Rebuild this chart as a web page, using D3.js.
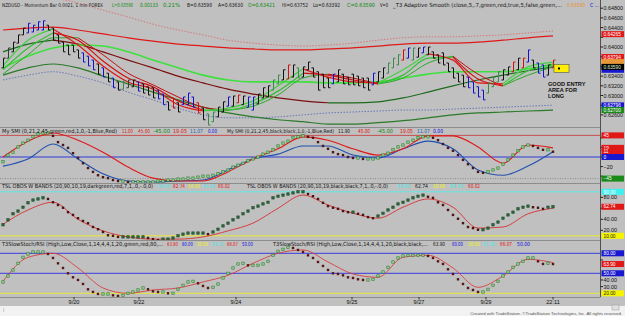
<!DOCTYPE html>
<html><head><meta charset="utf-8">
<script src="https://cdn.jsdelivr.net/npm/d3@7"></script>
<style>
body{margin:0;background:#c0c0c0;overflow:hidden}
svg{display:block}
text{font-family:"Liberation Sans Narrow","DejaVu Sans Condensed","Liberation Sans",sans-serif}
.ax{font-family:"Liberation Sans",Arial,sans-serif}
</style></head>
<body><svg id="c" width="625" height="316"></svg>
<script>
// ---------------- DATA ----------------
const barHigh=[0.6377,0.6398,0.6410,0.6425,0.6439,0.6449,0.6445,0.6452,0.6454,0.6445,
0.6439,0.6425,0.6410,0.6404,0.6404,0.6394,0.6388,0.6381,0.6373,0.6365,
0.6357,0.6346,0.6336,0.6328,0.6330,0.6332,0.6332,0.6328,0.6324,0.6318,
0.6316,0.6311,0.6303,0.6287,0.6295,0.6285,0.6297,0.6305,0.6297,0.6285,
0.6274,0.6262,0.6266,0.6276,0.6287,0.6297,0.6299,0.6301,0.6299,0.6297,
0.6297,0.6303,0.6316,0.6320,0.6332,0.6342,0.6353,0.6363,0.6363,0.6357,
0.6359,0.6369,0.6357,0.6349,0.6344,0.6336,0.6344,0.6353,0.6344,0.6338,
0.6344,0.6340,0.6336,0.6336,0.6346,0.6349,0.6357,0.6367,0.6377,0.6384,
0.6394,0.6398,0.6398,0.6398,0.6400,0.6400,0.6390,0.6384,0.6388,0.6367,
0.6357,0.6346,0.6342,0.6338,0.6328,0.6318,0.6311,0.6326,0.6338,0.6349,
0.6353,0.6359,0.6369,0.6377,0.6377,0.6394,0.6373,0.6367,0.6363,0.6363,
0.6373];
const barLow=[0.6357,0.6377,0.6390,0.6408,0.6425,0.6429,0.6431,0.6435,0.6435,0.6435,
0.6414,0.6408,0.6390,0.6384,0.6390,0.6377,0.6369,0.6361,0.6353,0.6344,
0.6338,0.6328,0.6316,0.6311,0.6313,0.6316,0.6318,0.6309,0.6305,0.6301,
0.6295,0.6293,0.6281,0.6270,0.6274,0.6266,0.6281,0.6281,0.6276,0.6264,
0.6250,0.6239,0.6246,0.6256,0.6266,0.6278,0.6278,0.6285,0.6281,0.6276,
0.6270,0.6283,0.6295,0.6297,0.6311,0.6324,0.6332,0.6334,0.6338,0.6336,
0.6338,0.6353,0.6338,0.6311,0.6316,0.6316,0.6324,0.6328,0.6324,0.6322,
0.6322,0.6320,0.6316,0.6311,0.6322,0.6328,0.6336,0.6346,0.6357,0.6363,
0.6373,0.6377,0.6373,0.6379,0.6388,0.6384,0.6377,0.6367,0.6363,0.6349,
0.6336,0.6328,0.6318,0.6316,0.6305,0.6297,0.6291,0.6305,0.6318,0.6328,
0.6332,0.6342,0.6349,0.6353,0.6357,0.6369,0.6357,0.6346,0.6338,0.6342,
0.6357];
// 1 = up bar, 0 = down bar
const barDir=("111111111"+"000000000000000"+"111"+"000000000"+"11"+"0000"+"11111111111111111"+"0"+"11"+"0000"+"11"+"000000"+"111111111111"+"00000000000"+"111111111"+"000"+"11").split('').map(Number);
// bar type codes
const barKind=("kdkkk"+"bbbb"+"kkkkkk"+"kbbb"+"kbkb"+"k"+"gdkb"+"kkkb"+"b"+"krk"+"bbb"+"rk"+"gg"+"kk"+"b"+"k"+"r"+"k"+"b"+"b"+"k"+"kk"+"gg"+"k"+"r"+"k"+"gk"+"k"+"kkkk"+"b"+"kkkkkk"+"k"+"b"+"kk"+"ggg"+"r"+"b"+"g"+"k"+"b"+"k"+"kkk"+"kkkk"+"b"+"bbb"+"g"+"ggkk"+"r"+"k"+"r"+"b"+"k"+"bb"+"k"+"r").split('');

// indicator line samples (every 5th bar)
const lineIdx=[0,5,10,15,20,25,30,35,40,45,50,55,60,65,70,75,80,85,90,95,100,105,110];
const t3Fast=[0.6361,0.6414,0.6437,0.6404,0.6361,0.6328,0.6313,0.6281,0.6268,0.6274,0.6289,0.6320,0.6355,0.6338,0.6328,0.6326,0.6353,0.6386,0.6373,0.6326,0.6324,0.6359,0.6369];
const t3Mid=[0.6353,0.6398,0.6429,0.6414,0.6371,0.6336,0.6318,0.6289,0.6270,0.6270,0.6283,0.6309,0.6346,0.6342,0.6332,0.6324,0.6342,0.6377,0.6379,0.6334,0.6320,0.6351,0.6365];
const t3Slow=[0.6344,0.6384,0.6419,0.6419,0.6384,0.6346,0.6322,0.6297,0.6276,0.6270,0.6278,0.6301,0.6336,0.6344,0.6336,0.6324,0.6336,0.6367,0.6381,0.6344,0.6320,0.6342,0.6359];
const limeAvg=[0.6357,0.6381,0.6398,0.6404,0.6402,0.6390,0.6373,0.6357,0.6342,0.6332,0.6328,0.6328,0.6328,0.6326,0.6326,0.6328,0.6336,0.6344,0.6349,0.6349,0.6349,0.6355,0.6363];
const upperBand=[0.6435,0.6439,0.6441,0.6435,0.6427,0.6419,0.6412,0.6406,0.6402,0.6398,0.6396,0.6394,0.6394,0.6396,0.6398,0.6402,0.6406,0.6408,0.6408,0.6410,0.6414,0.6419,0.6423];
const outerUpper=[0.6513,0.6507,0.6501,0.6491,0.6476,0.6462,0.6447,0.6435,0.6425,0.6414,0.6408,0.6404,0.6402,0.6404,0.6408,0.6414,0.6419,0.6421,0.6421,0.6423,0.6425,0.6429,0.6433];
const midBand=[0.6390,0.6406,0.6414,0.6406,0.6390,0.6373,0.6357,0.6340,0.6326,0.6313,0.6303,0.6295,0.6289,0.6285,0.6285,0.6287,0.6295,0.6307,0.6320,0.6332,0.6342,0.6351,0.6359];
const lowerBand=[0.6342,0.6357,0.6365,0.6357,0.6340,0.6324,0.6307,0.6291,0.6276,0.6264,0.6256,0.6250,0.6246,0.6241,0.6241,0.6244,0.6248,0.6254,0.6260,0.6264,0.6266,0.6268,0.6270];
const outerLower=[0.6332,0.6342,0.6349,0.6340,0.6326,0.6307,0.6291,0.6274,0.6260,0.6254,0.6254,0.6256,0.6260,0.6264,0.6266,0.6268,0.6270,0.6270,0.6272,0.6274,0.6276,0.6278,0.6280];

const smiDots=[-10,4,10,21,29,35,42,48,50,50,
44,31,25,19,8,-2,-13,-23,-31,-38,
-42,-44,-48,-50,-50,-52,-52,-52,-52,-52,
-52,-50,-50,-48,-48,-46,-46,-44,-44,-42,
-40,-40,-38,-35,-31,-27,-21,-17,-13,-8,
-4,0,6,10,15,23,29,33,40,42,
44,42,40,31,23,17,10,6,4,0,
-2,-2,-4,-4,-4,-2,4,8,15,21,
25,31,35,40,42,42,40,35,27,19,
13,4,-6,-15,-23,-31,-33,-31,-27,-23,
-15,-6,4,13,21,25,23,19,15,15,
11];
const smiSignal=[0,33,50,35,10,-21,-44,-50,-50,-31,-4,17,42,35,17,4,17,44,44,21,-13,25,19.05];
const smiSlow=[-19,-4,27,-4,-35,-50,-52,-50,-48,-27,-4,6,23,23,4,-2,17,33,17,-27,-38,-19,11.07];

const tslDots=[30,39,50,55,62,70,75,77,79,77,
71,66,61,53,48,42,37,33,26,22,
17,11,10,8,8,8,8,8,8,6,
4,2,4,4,6,10,13,15,15,15,
15,13,17,22,28,33,39,44,50,55,
61,64,68,71,79,82,84,86,88,90,
90,86,82,77,70,64,61,59,55,53,
53,50,48,44,42,46,51,57,62,68,
71,75,79,82,84,81,79,71,66,57,
48,41,33,26,24,21,21,24,30,35,
42,48,53,59,62,64,62,61,59,62,
62.74];
const tslSignal=[31,57,71,40,19,8,4,4,8,19,33,60,84,66,51,42,62,77,62,24,26,50,60.02];

const stochDots=[37,46,55,65,74,79,82,82,82,79,
73,65,58,50,44,40,34,26,22,19,
19,19,17,16,17,20,22,25,28,26,
23,22,22,20,20,26,32,37,38,35,
31,28,29,34,43,50,58,64,65,62,
62,62,64,68,77,83,86,89,88,85,
82,77,73,67,61,55,50,49,47,44,
43,41,40,40,41,46,52,59,67,73,
76,77,77,77,77,76,73,68,64,56,
49,41,34,28,25,22,22,26,32,38,
46,52,59,64,68,73,73,68,64,65,
63.9];
const stochSignal=[38,74,80,58,28,20,25,28,37,47,65,80,85,67,49,44,74,77,58,29,46,71,66.07];

const priceTicks=[0.648,0.646,0.644,0.642,0.640,0.638,0.636,0.634,0.632,0.630,0.628,0.626];
const priceMarks=[0.64265,0.63794,0.63690,0.63530,0.63590,0.62796,0.62700];
const priceMarkShown=[1,1,0,0,1,1,1];
const smiTicks=[40,20,0,-20,-40];
const smiMarks=[45,19.05,11.00,0,-45];
const tslTicks=[80,60,40,20];
const tslMarks=[90,62.74,10];
const stochTicks=[70,40,30];
const stochMarks=[80,63.90,50,20];
const timeLabels=["9/20","9/22","9/24","9/25","9/27","9/29","22:11"];
const timeIdx=[14.2,27.2,46.6,69.8,83.2,96.6,110];

// ---------------- DRAW ----------------
const svg=d3.select('#c');
const W=625,H=316,AX=600.5;
svg.append('rect').attr('width',W).attr('height',H).attr('fill','#c0c0c0');

const x=d3.scaleLinear().domain([0,110]).range([3,553]);
const yP=d3.scaleLinear().domain([0.640,0.630]).range([47,95.5]);
const yS=d3.scaleLinear().domain([45,-45]).range([135.4,178.6]);
const yT=d3.scaleLinear().domain([90,10]).range([191.8,235.8]);
const yR=d3.scaleLinear().domain([80,20]).range([253.3,293.3]);

const defs=svg.append('defs');
function panel(id,y0,h){
  defs.append('clipPath').attr('id',id).append('rect').attr('x',0).attr('y',y0).attr('width',600).attr('height',h);
  return svg.append('g').attr('clip-path',`url(#${id})`);
}
const gP=panel('cp',0,127), gS=panel('cs',127,56), gT=panel('ct',183,57), gR=panel('cr',240,57);

[127,183,240,297].forEach(yy=>svg.append('line').attr('x1',0).attr('x2',AX).attr('y1',yy+0.5).attr('y2',yy+0.5).attr('stroke','#8c8c8c').attr('stroke-width',1));
svg.append('line').attr('x1',AX).attr('x2',AX).attr('y1',0).attr('y2',297).attr('stroke','#505050');

const curve=d3.line().curve(d3.curveMonotoneX);
function drawLine(g,idx,vals,ys,color,w,dash){
  g.append('path').attr('d',curve(idx.map((d,k)=>[x(d),ys(vals[k])])))
   .attr('fill','none').attr('stroke',color).attr('stroke-width',w||1)
   .attr('stroke-dasharray',dash||null);
}
function slopeLine(g,idx,vals,ys,upC,dnC,w){
  const runs=[];let cur=null;
  for(let k=0;k<vals.length-1;k++){
    const up=vals[k+1]>=vals[k];
    if(!cur||cur.up!==up){cur={up,pts:[k]};runs.push(cur);}
    cur.pts.push(k+1);
  }
  runs.forEach(r=>g.append('path').attr('d',curve(r.pts.map(k=>[x(idx[k]),ys(vals[k])])))
    .attr('fill','none').attr('stroke',r.up?upC:dnC).attr('stroke-width',w||1));
}
function hline(g,v,ys,color,dash){
  g.append('line').attr('x1',0).attr('x2',600).attr('y1',ys(v)).attr('y2',ys(v))
   .attr('stroke',color).attr('stroke-width',1).attr('stroke-dasharray',dash||null);
}

// ---- price panel
drawLine(gP,lineIdx,outerUpper,yP,'#d87878',1,'1.5,1.5');
drawLine(gP,lineIdx,upperBand,yP,'#e01818',1.2);
slopeLine(gP,lineIdx,midBand,yP,'#1e6b1e','#7a1010',1.2);
drawLine(gP,lineIdx,outerLower,yP,'#6a78b8',1,'1.5,1.5');
drawLine(gP,lineIdx,lowerBand,yP,'#2a7a2a',1.2);
drawLine(gP,lineIdx,limeAvg,yP,'#3ee03e',1.6);
slopeLine(gP,lineIdx,t3Slow,yP,'#2aa82a','#c01010',1);
slopeLine(gP,lineIdx,t3Mid,yP,'#33c033','#d01010',1.2);
slopeLine(gP,lineIdx,t3Fast,yP,'#44d044','#e01818',1.2);

const kindColor={k:'#101010',d:'#3a3a3a',b:'#1010d0',r:'#d01010',g:'#3a8a4a'};
const bars=gP.append('g');
barHigh.forEach((h,i)=>{
  const c=kindColor[barKind[i]]||'#101010';
  const xi=Math.round(x(i))+0.5;
  const o=barDir[i]?barLow[i]:h, cl=barDir[i]?h:barLow[i];
  bars.append('line').attr('x1',xi).attr('x2',xi).attr('y1',yP(h)).attr('y2',yP(barLow[i])).attr('stroke',c).attr('stroke-width',1);
  bars.append('line').attr('x1',xi-2).attr('x2',xi).attr('y1',yP(o)).attr('y2',yP(o)).attr('stroke',c);
  bars.append('line').attr('x1',xi).attr('x2',xi+2).attr('y1',yP(cl)).attr('y2',yP(cl)).attr('stroke',c);
});
gP.append('rect').attr('x',x(110)+1).attr('y',yP(0.6364)).attr('width',15).attr('height',8)
  .attr('fill','#ffee00').attr('stroke','#555').attr('stroke-width',0.6);
gP.append('rect').attr('x',x(110)+5).attr('y',yP(0.6364)+3).attr('width',2).attr('height',2).attr('fill','#000');
['GOOD ENTRY','AREA FOR','LONG'].forEach((t,k)=>gP.append('text').attr('class','ax').attr('x',548).attr('y',86+k*6.2)
  .attr('font-size',5.6).attr('font-weight','bold').attr('fill','#111').text(t));

// ---- SMI
hline(gS,45,yS,'#c85050');
hline(gS,0,yS,'#2a3ad8');
hline(gS,-45,yS,'#8a8a8a','1,1.5');
drawLine(gS,lineIdx,smiSlow,yS,'#2050b0',1.1);
drawLine(gS,lineIdx,smiSignal,yS,'#e01818',1.1);
function dots(g,vals,ys,upF,upS,dnF){
  vals.forEach((v,i)=>{
    const up=i===0||v>=vals[i-1];
    g.append('rect').attr('x',x(i)-1.2).attr('y',ys(v)-1.2).attr('width',2.4).attr('height',2.4)
     .attr('fill',up?upF:dnF).attr('stroke',up?upS:'none').attr('stroke-width',0.6);
  });
}
dots(gS,smiDots,yS,'#8fd08f','#2d7a2d','#4a1818');

// ---- TSL
hline(gT,90,yT,'#5ee8e8');
hline(gT,10,yT,'#e8e83a');
drawLine(gT,lineIdx,tslSignal,yT,'#d83030',0.9);
dots(gT,tslDots,yT,'#2f6a40','#1f4a2a','#4a1414');

// ---- Stoch
hline(gR,80,yR,'#3a3ae0');
hline(gR,50,yR,'#3a3ae0');
hline(gR,20,yR,'#e8e83a');
drawLine(gR,lineIdx,stochSignal,yR,'#d84040',0.9);
dots(gR,stochDots,yR,'#9ad09a','#2d7a2d','#5a1414');

// ---- titles: each piece is stretched to its slot; the font only shrinks if its
// natural width would run into the next piece
function seg(y,list){
  list.forEach(([t,x0,w,c],k)=>{
    const gap=(k<list.length-1?list[k+1][1]-x0-1.5:w+4);
    const el=svg.append('text').attr('x',x0).attr('y',y).attr('font-size',5.6).attr('fill',c).text(t);
    const nat=el.node().getComputedTextLength();
    if(nat>gap) el.attr('font-size',Math.max(4.6,5.6*gap/nat).toFixed(2));
    el.attr('textLength',w).attr('lengthAdjust','spacingAndGlyphs');
  });
}
const K='#141414',G='#108a10',R='#e01010',B='#1010e0',Y='#f4f400',C='#40e8e8',SB='#2060b0';
seg(7.2,[["NZDUSD - Momentum Bar 0.0021, 1 min  FOREX",2,101,K],["L=0.63590",112,21,G],["0.00133",140,18,G],["0.21%",163,17,G],
 ["B=0.63598",187,25,K],["A=0.63630",218,25,K],["O=0.63421",248,27,G],["Hi=0.63752",282,26,K],["Lo=0.63392",313,27,K],
 ["C=0.63590",347,28,G],["V=0",380,8,K],["_T3 Adaptive Smooth (close,5,.7,green,red,true,5,false,green,...",393,169,K],
 ["0.63590",567,18,'#e89030'],["C ...",590,9,B]]);
seg(133.2,[["My SMI (0,21,2,45,green,red,1,0,-1,Blue,Red)",2,115,K],["11.00",122,11,R],["45.00",138,12,R],["-45.00",153,17,G],
 ["19.05",173,14,R],["11.07",190,13,SB],["0.00",208,9,B],["My SMI (0,21,2,45,black,black,1,0,-1,Blue,Red)",227,107,K],
 ["11.90",338,12,K],["45.00",358,12,R],["-45.00",377,16,G],["19.05",400,13,R],["11.07",417,13,SB],["0.00",433,10,B]]);
seg(188.2,[["TSL OBOS W BANDS (20,90,10,19,darkgreen,red,7,1,.0,-.0,0)",2,151,K],["90.00",158,12,C],["62.74",173,12,R],
 ["10.00",188,12,Y],["64.10",203,12,C],["60.02",218,12,R],["TSL OBOS W BANDS (20,90,10,19,black,black,7,1,.0,-.0,0)",247,141,K],
 ["90.00",397,13,C],["62.74",415,13,K],["10.00",433,12,Y],["64.10",450,13,C],["60.02",468,12,R]]);
seg(246.2,[["T3SlowStoch/RSI (High,Low,Close,1,14,4,4,1,20,green,red,80,...",2,161,K],["63.90",167,11,R],["80.00",182,11,B],
 ["20.00",197,11,Y],["61.30",212,11,C],["66.07",227,11,R],["50.00",242,11,B],
 ["T3SlowStoch/RSI (High,Low,Close,1,14,4,4,1,20,black,black,...",273,155,K],["63.90",433,12,K],["80.00",452,11,B],
 ["20.00",468,12,Y],["61.30",483,12,C],["66.07",500,12,R],["50.00",517,13,B]]);

// ---- right axis
const ax=svg.append('g');
function ticks(vals,ys,fmt,markVals){
  vals.forEach(v=>{const yy=ys(v);
    ax.append('line').attr('x1',AX).attr('x2',AX+2.5).attr('y1',yy).attr('y2',yy).attr('stroke','#222');
    if(markVals.some(m=>Math.abs(ys(m)-yy)<4.4)) return; // label hidden behind a value box
    ax.append('text').attr('class','ax').attr('x',603.5).attr('y',yy+2).attr('font-size',5.4).attr('fill','#111').text(fmt(v));});
}
function marks(vals,ys,fmt,fills,txt,shown){
  vals.forEach((v,k)=>{const yy=ys(v);
    ax.append('rect').attr('x',601.5).attr('y',yy-3).attr('width',22.5).attr('height',6).attr('fill',fills[k]);
    if(shown&&!shown[k]) return;
    ax.append('text').attr('class','ax').attr('x',603.5).attr('y',yy+1.7).attr('font-size',4.8).attr('fill',txt[k]).text(fmt(v));});
}
const f5=d3.format('.5f'), f0=d3.format('.0f'), f2=d3.format('.2f');
ticks(priceTicks,yP,f5,priceMarks);
marks(priceMarks,yP,f5,['#e01818','#e01818','#e89838','#1818d0','#000000','#1818d0','#1a8a1a'],['#fff','#fff','#222','#fff','#d8f0d8','#fff','#fff'],priceMarkShown);
ticks(smiTicks,yS,f0,smiMarks);
marks(smiMarks,yS,f0,['#e01818','#e01818','#e01818','#1818d0','#1a8a1a'],['#fff','#fff','#fff','#fff','#fff']);
ticks(tslTicks,yT,f2,tslMarks);
marks(tslMarks,yT,f2,['#40f0f0','#e01818','#f4f400'],['#fff','#fff','#222']);
ticks(stochTicks,yR,f2,stochMarks);
marks(stochMarks,yR,f2,['#1818d0','#e01818','#1818d0','#f4f400'],['#fff','#fff','#fff','#222']);

// ---- time axis
timeLabels.forEach((t,k)=>{const xx=x(timeIdx[k]);
  svg.append('line').attr('x1',xx).attr('x2',xx).attr('y1',297).attr('y2',299.5).attr('stroke','#333');
  svg.append('text').attr('class','ax').attr('x',xx).attr('y',304.2).attr('text-anchor','middle').attr('font-size',5.6).attr('fill','#111').text(t);});

// ---- footer
svg.append('rect').attr('x',0).attr('y',306).attr('width',W).attr('height',10).attr('fill','#f2f2f2');
svg.append('rect').attr('x',612).attr('y',305).attr('width',7).attr('height',5).attr('fill','#e0e0e0').attr('stroke','#999').attr('stroke-width',0.5);
svg.append('text').attr('x',3).attr('y',311).attr('font-size',4.5).attr('fill','#555').text('¦');
svg.append('text').attr('class','ax').attr('x',622).attr('y',314.5).attr('text-anchor','end').attr('font-size',4.3).attr('fill','#555')
  .text('Created with TradeStation. ©TradeStation Technologies, Inc. All rights reserved.');
</script></body></html>
